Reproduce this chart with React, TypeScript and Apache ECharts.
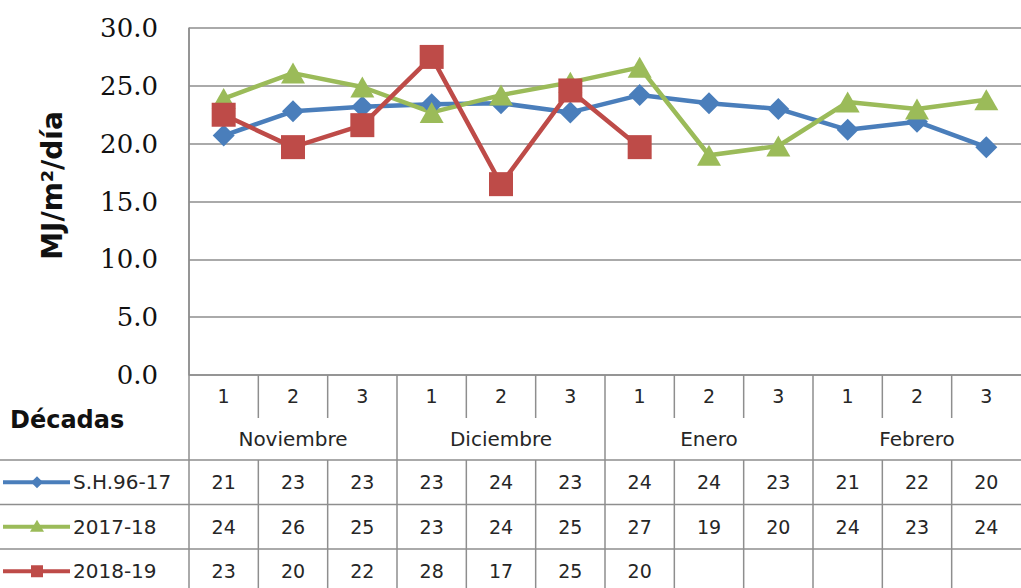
import React, { useEffect, useRef } from "react";
import * as echarts from "echarts";

const categoryKeys = [
  "Nov-1", "Nov-2", "Nov-3",
  "Dic-1", "Dic-2", "Dic-3",
  "Ene-1", "Ene-2", "Ene-3",
  "Feb-1", "Feb-2", "Feb-3",
];
const decades = ["1", "2", "3", "1", "2", "3", "1", "2", "3", "1", "2", "3"];
const months = ["Noviembre", "Diciembre", "Enero", "Febrero"];
const seriesNames = ["S.H.96-17", "2017-18", "2018-19"];

const sh9617 = [20.7, 22.8, 23.2, 23.4, 23.5, 22.7, 24.2, 23.5, 23.0, 21.2, 21.9, 19.7];
const y2017_18 = [23.9, 26.1, 24.9, 22.7, 24.2, 25.3, 26.6, 19.0, 19.8, 23.6, 23.0, 23.8];
const y2018_19 = [22.5, 19.7, 21.6, 27.5, 16.5, 24.6, 19.7, null, null, null, null, null];

const tableSH = ["21", "23", "23", "23", "24", "23", "24", "24", "23", "21", "22", "20"];
const table1718 = ["24", "26", "25", "23", "24", "25", "27", "19", "20", "24", "23", "24"];
const table1819 = ["23", "20", "22", "28", "17", "25", "20", "", "", "", "", ""];

const yMin = 0;
const yMax = 30;
const yInterval = 5;

const colors = ["#4a7ebb", "#9bbb59", "#be4b48"];
const gridColor = "#8e8e8e";
const textColor = "#262626";

export default function App() {
  const ref = useRef<HTMLDivElement>(null);

  useEffect(() => {
    if (!ref.current) return;
    const chart = echarts.init(ref.current, undefined, { renderer: "svg" });
    chart.setOption({
      animation: false,
      backgroundColor: "#ffffff",
      grid: { left: 189, right: -4, top: 28, bottom: 213, containLabel: false },
      xAxis: {
        type: "category",
        data: categoryKeys,
        boundaryGap: true,
        axisLine: { show: false },
        axisTick: { show: false },
        axisLabel: { show: false },
        splitLine: { show: false },
      },
      yAxis: {
        type: "value",
        min: yMin,
        max: yMax,
        interval: yInterval,
        axisLine: { show: true, lineStyle: { color: gridColor, width: 1.5 } },
        axisTick: { show: false },
        axisLabel: {
          margin: 31,
          fontFamily: "DejaVu Serif",
          fontSize: 26,
          color: "#111111",
          formatter: (v: number) => v.toFixed(1),
        },
        splitLine: { show: true, lineStyle: { color: gridColor, width: 1.5 } },
      },
      series: [
        {
          name: seriesNames[0],
          type: "line",
          data: sh9617,
          symbol: "diamond",
          symbolSize: [22, 22],
          itemStyle: { color: colors[0] },
          lineStyle: { color: colors[0], width: 4.5 },
        },
        {
          name: seriesNames[1],
          type: "line",
          data: y2017_18,
          symbol: "triangle",
          symbolSize: [24, 21],
          itemStyle: { color: colors[1] },
          lineStyle: { color: colors[1], width: 4.5 },
        },
        {
          name: seriesNames[2],
          type: "line",
          data: y2018_19,
          symbol: "rect",
          symbolSize: [24, 24],
          connectNulls: false,
          itemStyle: { color: colors[2] },
          lineStyle: { color: colors[2], width: 4.5 },
        },
      ],
    });

    const xAt = (i: number) => chart.convertToPixel({ xAxisIndex: 0 }, i) as number;
    const y0 = chart.convertToPixel({ yAxisIndex: 0 }, yMin) as number;
    const yTop = chart.convertToPixel({ yAxisIndex: 0 }, yMax) as number;
    const band = xAt(1) - xAt(0);
    const leftX = xAt(0) - band / 2;
    const rightX = xAt(categoryKeys.length - 1) + band / 2;
    const W = 1021;

    const decadeRowBottom = y0 + 43;
    const monthRowBottom = y0 + 85;
    const rowH = 44.5;
    const rowTops = [monthRowBottom, monthRowBottom + rowH, monthRowBottom + 2 * rowH];
    const tableBottom = monthRowBottom + 3 * rowH;

    const ls = { stroke: gridColor, lineWidth: 1.5 };
    const g: any[] = [];
    const line = (x1: number, y1: number, x2: number, y2: number) =>
      g.push({ type: "line", shape: { x1, y1, x2, y2 }, style: ls, silent: true });

    // frame lines
    line(leftX, yTop, leftX, tableBottom);
    line(leftX, y0, rightX, y0);
    rowTops.forEach((t) => line(0, t, W, t));

    // vertical separators
    for (let i = 1; i < categoryKeys.length; i++) {
      const bx = leftX + i * band;
      if (i % 3 === 0) line(bx, y0, bx, tableBottom);
      else {
        line(bx, y0, bx, decadeRowBottom);
        line(bx, monthRowBottom, bx, tableBottom);
      }
    }

    const txt = (x: number, y: number, s: string, extra: any = {}) =>
      g.push({
        type: "text",
        x,
        y,
        silent: true,
        style: {
          text: s,
          fill: textColor,
          font: "19px 'DejaVu Sans'",
          align: "center",
          verticalAlign: "middle",
          ...extra,
        },
      });

    decades.forEach((d, i) => txt(xAt(i), y0 + 21, d));
    months.forEach((m, k) =>
      txt((xAt(3 * k) + xAt(3 * k + 2)) / 2, y0 + 64, m, { font: "20px 'DejaVu Sans'" })
    );

    const rows = [tableSH, table1718, table1819];
    rows.forEach((r, ri) => {
      const cy = rowTops[ri] + rowH / 2;
      r.forEach((v, i) => {
        if (v) txt(xAt(i), cy, v);
      });
      // legend key
      g.push({
        type: "line",
        shape: { x1: 3, y1: cy, x2: 70, y2: cy },
        style: { stroke: colors[ri], lineWidth: 4 },
        silent: true,
      });
      if (ri === 0) {
        g.push({
          type: "polygon",
          shape: { points: [[37, cy - 6], [43, cy], [37, cy + 6], [31, cy]] },
          style: { fill: colors[ri] },
          silent: true,
        });
      } else if (ri === 1) {
        g.push({
          type: "polygon",
          shape: { points: [[37, cy - 7], [44, cy + 5], [30, cy + 5]] },
          style: { fill: colors[ri] },
          silent: true,
        });
      } else {
        g.push({
          type: "rect",
          shape: { x: 31, y: cy - 6, width: 12, height: 12 },
          style: { fill: colors[ri] },
          silent: true,
        });
      }
      txt(73, cy, seriesNames[ri], { align: "left", font: "20px 'DejaVu Sans'" });
    });

    txt(10, (y0 + monthRowBottom) / 2 + 2, "Décadas", {
      align: "left",
      font: "bold 24px 'DejaVu Sans'",
      fill: "#111111",
    });

    g.push({
      type: "text",
      x: 52,
      y: (yTop + y0) / 2 - 16,
      rotation: Math.PI / 2,
      silent: true,
      style: {
        text: "MJ/m²/día",
        fill: "#111111",
        font: "bold 28px 'DejaVu Sans'",
        align: "center",
        verticalAlign: "middle",
      },
    });

    chart.setOption({ graphic: g });

    return () => chart.dispose();
  }, []);

  return (
    <div
      ref={ref}
      style={{ position: "fixed", left: 0, top: 0, width: 1021, height: 588, background: "#fff" }}
    />
  );
}
